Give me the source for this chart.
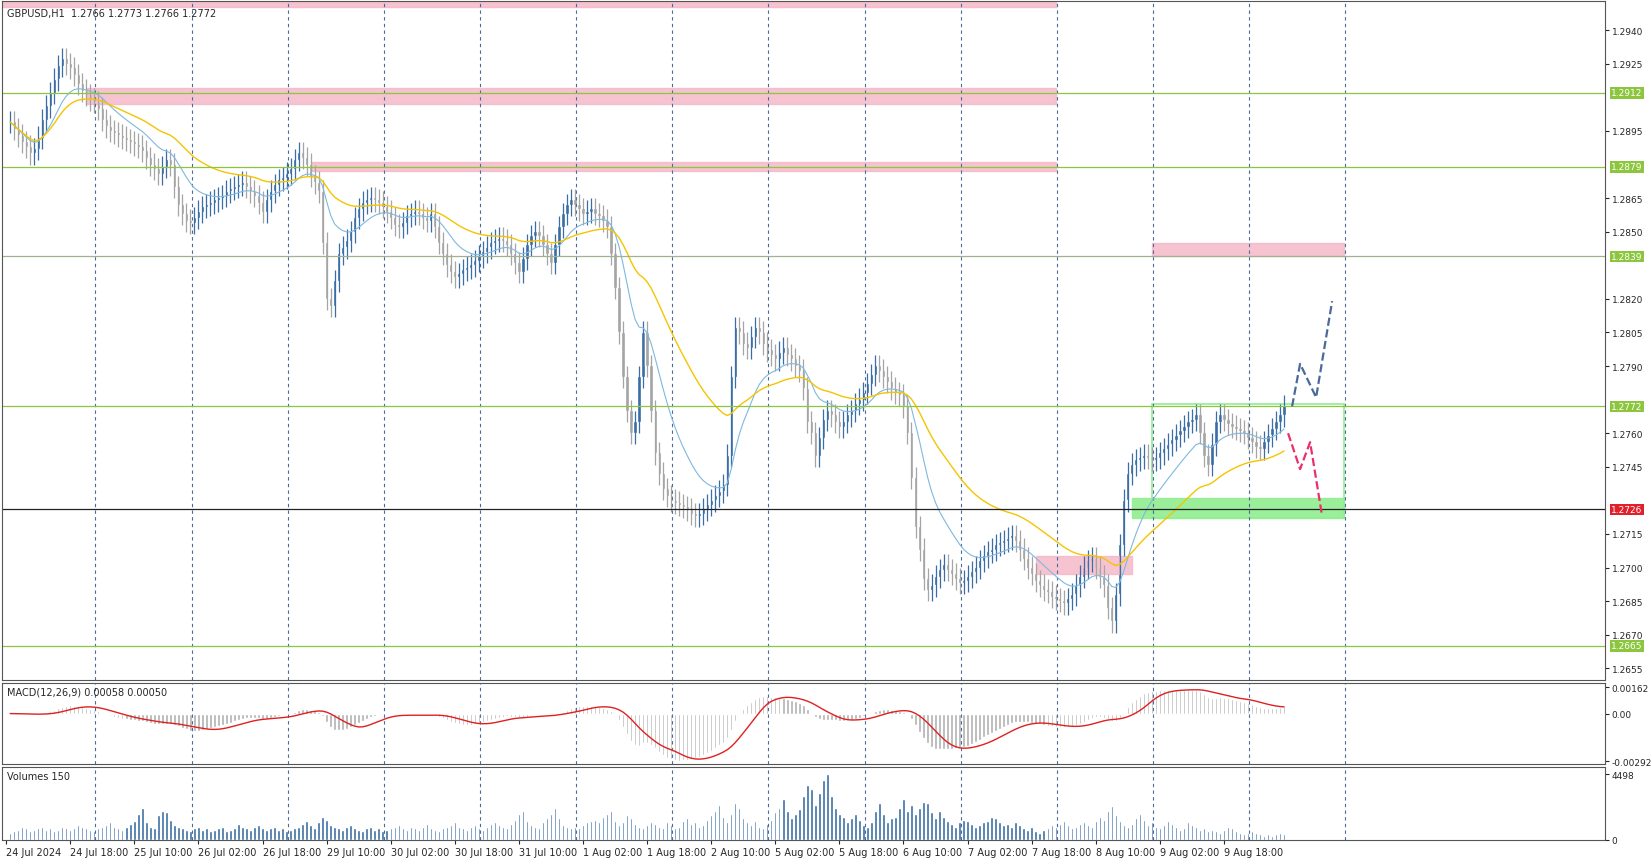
import numpy as np, pandas as pd, seaborn as sns, matplotlib
matplotlib.use("Agg")
import matplotlib.pyplot as plt
from matplotlib.patches import Rectangle

# close prices, pips above 1.2600
closes_pips = [299,296,293,290,288,285,287,292,300,306,312,
 318,324,327,325, 323,320,316,313,311,309,308,
 305,300,297,295,294,293,292,291,290,289,288,286,
 283,280,278,276,279,282,280,270,262,
 258,255,254,256,259,261,262,263,264,265,266,
 268,269,270,271,272,270,268,266,263,259,264,268,271,
 273,274,276,278,282,285,283,280,275,272,
 268,245,220,217,228,240,
 243,246,250,256,260,263,264,265,264,263,
 261,259,256,253,252,254,257,258,259,258,256,255,258,252,245,240,
 235,232,230,231,233,234,235,237,239,241,243,245,246,
 247,246,244,240,236,232,238,244,248,250,248,244,240,236,244,252,258,262,264,
 262,260,258,259,260,258,257,255,252,240,
 225,205,185,170,160,165,
 185,205,190,170,151,
 142,135,132,130,129,128,127,126,124,123,124,126,128,130,132,134,137,150,
 185,207,205,200,198,203,207,205,200,197,195,193,196,198,195,193,190,188,
 180,165,160,150,158,166,170,168,165,163,165,168,170,173,175,178,182,186,190,
 188,185,183,180,178,177,172,160,140,118,108,
 95,90,92,96,99,101,99,97,95,93,94,96,98,100,103,105,107,108,110,111,112,113,114,
 112,108,104,100,97,94,92,90,89,87,
 86,85,84,86,88,92,96,100,103,104,100,96,92,
 82,76,88,110,130,142,
 146,148,149,150,149,148,149,151,153,155,157,159,161,163,165,166,
 168,160,150,146,155,165,168,166,164,163,162,161,160,158,156,154,153,156,159,162,165,168,172]
volumes_h = [5,6,7,9,8,6,7,8,9,7,8,6,7,9,8,7,8,10,9,8,7,
 6,8,9,10,12,9,8,7,9,11,13,18,22,12,9,8,17,20,19,14,
 10,9,8,7,6,8,9,7,8,6,7,8,9,6,7,8,11,9,8,7,
 9,10,8,7,8,9,7,8,6,7,8,9,11,13,10,8,12,16,14,10,
 9,8,7,9,10,8,7,6,8,9,7,8,6,7,8,9,10,8,7,9,
 8,7,9,11,8,7,6,8,9,10,12,9,8,7,9,10,8,7,9,11,
 12,10,9,8,11,14,18,20,13,10,9,8,12,15,18,22,15,10,9,8,
 9,8,10,12,13,14,12,16,18,20,13,10,12,17,15,11,9,8,10,12,
 11,9,8,12,10,8,9,13,15,11,12,9,10,14,17,20,24,16,12,18,
 25,22,15,12,10,13,9,8,11,14,19,22,28,20,15,18,21,30,38,35,
 24,32,41,45,30,22,18,16,12,15,18,14,10,9,12,20,25,18,12,15,
 16,22,28,20,24,18,22,26,25,19,15,20,16,13,11,9,12,14,13,11,
 9,10,12,13,16,15,12,10,11,9,12,10,8,7,9,6,5,7,8,10,
 9,11,13,10,8,9,11,12,10,9,13,16,14,20,23,17,13,10,9,11,
 15,18,14,10,12,9,8,10,13,11,9,7,8,12,10,9,7,8,6,7,
 6,5,7,9,8,6,5,4,5,6,5,4,3,4,3,4,5,4]
date_labels = ["24 Jul 18:00","25 Jul 10:00","26 Jul 02:00","26 Jul 18:00","29 Jul 10:00",
 "30 Jul 02:00","30 Jul 18:00","31 Jul 10:00","1 Aug 02:00","1 Aug 18:00","2 Aug 10:00",
 "5 Aug 02:00","5 Aug 18:00","6 Aug 10:00","7 Aug 02:00","7 Aug 18:00","8 Aug 10:00",
 "9 Aug 02:00","9 Aug 18:00"]
green_levels = [1.2912, 1.2879, 1.2839, 1.2772, 1.2665]
black_level = 1.2726

n = min(len(closes_pips), len(volumes_h))
close = 1.26 + np.array(closes_pips[:n]) / 10000
vol = np.array(volumes_h[:n]) * 100
openp = np.concatenate([[close[0]], close[:-1]])
hi = np.maximum(openp, close) + 0.0005
lo = np.minimum(openp, close) - 0.0005
idx = np.arange(n)
df = pd.DataFrame({"i": idx, "close": close})
df["ema_fast"] = df.close.ewm(span=14).mean()
df["ema_slow"] = df.close.ewm(span=40).mean()
macd = df.close.ewm(span=12).mean() - df.close.ewm(span=26).mean()
signal = macd.rolling(9, min_periods=1).mean()

sns.set_style("white")
plt.rcParams['font.family'] = ['DejaVu Sans']
W, H = 1567, 817
fig = plt.figure(figsize=(16.52, 8.62), dpi=100)
def ax_at(x0, y0, x1, y1):
    return fig.add_axes([x0/W, 1-y1/H, (x1-x0)/W, (y1-y0)/H])
ax = ax_at(2, 2, 1522, 645)
axm = ax_at(2, 648, 1522, 725)
axv = ax_at(2, 728, 1522, 797)
xmin, xmax = -2, 398
for a in (ax, axm, axv):
    a.set_xlim(xmin, xmax)
    for s in a.spines.values():
        s.set_color("#555555"); s.set_linewidth(0.8)
    a.tick_params(left=False, labelleft=False, right=True, labelright=True, labelsize=6.5, length=3, pad=2, bottom=False, labelbottom=False)
    for k in range(14):
        a.axvline(21.3 + 24*k, color="#4a6a9a", ls=(0, (3, 3)), lw=0.8)

ax.set_ylim(1.2650, 1.2953)
ticks = [t for t in np.arange(1.2655, 1.2941, 0.0015) if min(abs(t - g) for g in green_levels + [black_level]) > 0.00045]
ax.set_yticks(ticks)
ax.yaxis.set_major_formatter(matplotlib.ticker.FormatStrFormatter("%.4f"))

up = close >= openp
col = np.where(up, "#3a6ea5", "#a5a5a5")
ax.vlines(idx, lo, hi, colors=col, lw=0.9)
ax.bar(idx, np.abs(close-openp)+0.00004, bottom=np.minimum(openp, close), width=0.8, color=col)
sns.lineplot(data=df, x="i", y="ema_fast", ax=ax, color="#7fb8e0", lw=0.8)
sns.lineplot(data=df, x="i", y="ema_slow", ax=ax, color="#f5c400", lw=1.0)
ax.set_xlabel(""); ax.set_ylabel("")

for lv in green_levels:
    ax.axhline(lv, color="#8cc63f" if lv != 1.2839 else "#a0b090", lw=0.9)
ax.axhline(black_level, color="#222222", lw=0.9)
pink = "#f4b6c6"
ax.add_patch(Rectangle((19, 1.2907), 242, 0.0007, color=pink, alpha=0.8))
ax.add_patch(Rectangle((75, 1.2877), 186, 0.0004, color=pink, alpha=0.8))
ax.add_patch(Rectangle((-2, 1.29505), 263, 0.0002, color=pink, alpha=0.8))
ax.add_patch(Rectangle((285, 1.2839), 48, 0.0006, color=pink, alpha=0.8))
ax.add_patch(Rectangle((256, 1.2697), 24, 0.0008, color=pink, alpha=0.8))
ax.add_patch(Rectangle((280, 1.2722), 53, 0.0009, color="#90ee90", alpha=0.9))
ax.add_patch(Rectangle((285, 1.2722), 48, 0.0051, fill=False, ec="#90ee90", lw=1.2))
ax.plot([320, 322, 326, 330], [1.2772, 1.2791, 1.2776, 1.2819], color="#4a6a9a", ls="--", lw=1.6)
ax.plot([319, 322, 324.5, 327.5], [1.2760, 1.2744, 1.2756, 1.2723], color="#e8306a", ls="--", lw=1.6)

for lv, bg in [(1.2912, "#8cc63f"), (1.2879, "#8cc63f"), (1.2839, "#8cc63f"), (1.2772, "#8cc63f"), (1.2665, "#8cc63f"), (1.2726, "#e0202a")]:
    ax.text(1.004, lv, f"{lv:.4f}", transform=ax.get_yaxis_transform(), fontsize=6.5, color="white",
            va="center", ha="left", bbox=dict(boxstyle="square,pad=0.15", fc=bg, ec="none"), zorder=5)
ax.text(0.003, 0.99, "GBPUSD,H1  1.2766 1.2773 1.2766 1.2772", transform=ax.transAxes, fontsize=7, va="top")

axm.bar(idx, macd, width=0.6, color="#b0b0b0")
axm.plot(idx, signal, color="#e02020", lw=1)
axm.set_ylim(-0.0031, 0.0019)
axm.set_yticks([0.00162, 0.0, -0.00292])
axm.set_yticklabels(["0.00162", "0.00", "-0.00292"])
axm.text(0.003, 0.95, "MACD(12,26,9) 0.00058 0.00050", transform=axm.transAxes, fontsize=7, va="top")

axv.bar(idx, vol, width=0.6, color="#3a6ea5")
axv.set_ylim(0, 5000)
axv.set_yticks([0, 4498]); axv.set_yticklabels(["0", "4498"])
axv.text(0.003, 0.95, "Volumes 150", transform=axv.transAxes, fontsize=7, va="top")
axv.tick_params(bottom=True, labelbottom=True)
axv.set_xticks([15 + 16*k for k in range(len(date_labels))] + [-1])
axv.set_xticklabels(date_labels + ["24 Jul 2024"], fontsize=7, ha="left")
fig.savefig("out.png", dpi=100)
